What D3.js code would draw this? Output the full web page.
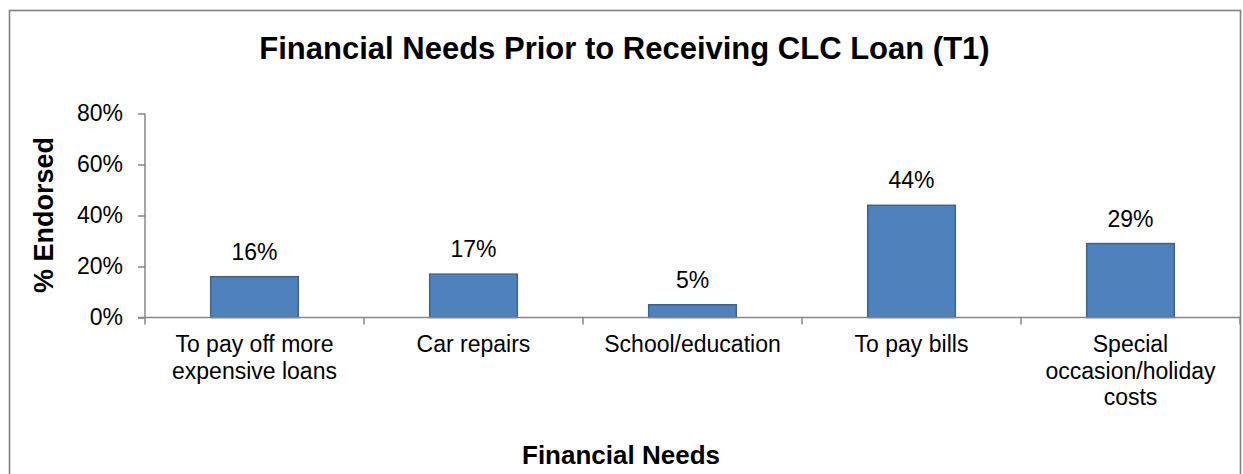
<!DOCTYPE html>
<html>
<head>
<meta charset="utf-8">
<script src="https://cdn.jsdelivr.net/npm/d3@7"></script>
<style>
  html, body { margin: 0; padding: 0; background: #fff; }
  svg { display: block; font-family: Arial, "Liberation Sans", sans-serif; }
</style>
</head>
<body>
<svg id="chart" width="1243" height="474"></svg>
<script>
// Share of respondents endorsing each financial need (percent)
const categories = [
  ["To pay off more", "expensive loans"],
  ["Car repairs"],
  ["School/education"],
  ["To pay bills"],
  ["Special", "occasion/holiday", "costs"]
];
const values = [16, 17, 5, 44, 29];
const yTicks = [0, 20, 40, 60, 80];

const chartTitle = "Financial Needs Prior to Receiving CLC Loan (T1)";
const xTitle = "Financial Needs";
const yTitle = "% Endorsed";

const svg = d3.select("#chart");
const W = 1243, H = 474;

// Outer chart frame
svg.append("rect")
  .attr("x", 9.5).attr("y", 10.5)
  .attr("width", 1231).attr("height", H + 10)
  .attr("fill", "#fff")
  .attr("stroke", "#808080").attr("stroke-width", 1.6);

const plot = { left: 145, right: 1240, top: 113.5, bottom: 317.5 };

const x = d3.scaleBand()
  .domain(d3.range(categories.length))
  .range([plot.left, plot.right])
  .paddingInner(0.6).paddingOuter(0.3);

const xOuter = d3.scaleBand()
  .domain(d3.range(categories.length))
  .range([plot.left, plot.right]);

const y = d3.scaleLinear().domain([0, 80]).range([plot.bottom, plot.top]);

// Title
svg.append("text")
  .attr("x", 624.5).attr("y", 59)
  .attr("text-anchor", "middle")
  .attr("font-size", 31).attr("font-weight", "bold")
  .attr("fill", "#000")
  .text(chartTitle);

// Bars
svg.append("g").selectAll("rect")
  .data(values)
  .join("rect")
  .attr("x", (d, i) => x(i))
  .attr("y", d => y(d))
  .attr("width", x.bandwidth())
  .attr("height", d => y(0) - y(d))
  .attr("fill", "#4F81BD")
  .attr("stroke", "#3B6392")
  .attr("stroke-width", 1.5);

// Value labels
svg.append("g").selectAll("text")
  .data(values)
  .join("text")
  .attr("x", (d, i) => x(i) + x.bandwidth() / 2)
  .attr("y", d => y(d) - 17)
  .attr("text-anchor", "middle")
  .attr("font-size", 23)
  .attr("fill", "#000")
  .text(d => d + "%");

// Y axis
const yAxis = svg.append("g")
  .attr("transform", `translate(${plot.left},0)`)
  .call(d3.axisLeft(y).tickValues(yTicks).tickFormat(d => d + "%").tickSize(7).tickPadding(15));
yAxis.select(".domain").attr("stroke", "#868686").attr("stroke-width", 1.5)
  .attr("d", `M0,${plot.top}V${plot.bottom}`);
yAxis.selectAll(".tick line").attr("stroke", "#868686").attr("stroke-width", 1.5);
yAxis.selectAll(".tick text")
  .attr("font-size", 23).attr("font-family", "Arial, 'Liberation Sans', sans-serif")
  .attr("fill", "#000");

// X axis: line with ticks at category boundaries
const xg = svg.append("g");
xg.append("line")
  .attr("x1", plot.left - 7).attr("x2", plot.right)
  .attr("y1", plot.bottom).attr("y2", plot.bottom)
  .attr("stroke", "#868686").attr("stroke-width", 1.5);
const bounds = d3.range(categories.length + 1).map(i => i < categories.length ? xOuter(i) : plot.right);
xg.selectAll(".xtick")
  .data(bounds)
  .join("line")
  .attr("class", "xtick")
  .attr("x1", d => d).attr("x2", d => d)
  .attr("y1", plot.bottom).attr("y2", plot.bottom + 7)
  .attr("stroke", "#868686").attr("stroke-width", 1.5);

// Category labels
const catG = svg.append("g").selectAll("text")
  .data(categories)
  .join("text")
  .attr("text-anchor", "middle")
  .attr("font-size", 23)
  .attr("fill", "#000");
catG.selectAll("tspan")
  .data((d, i) => d.map(line => ({ line, i })))
  .join("tspan")
  .attr("x", d => xOuter(d.i) + xOuter.bandwidth() / 2)
  .attr("y", (d, j) => 352 + j * 26.5)
  .text(d => d.line);

// Axis titles
svg.append("text")
  .attr("x", 621).attr("y", 464)
  .attr("text-anchor", "middle")
  .attr("font-size", 26).attr("font-weight", "bold")
  .attr("fill", "#000")
  .text(xTitle);

svg.append("text")
  .attr("transform", "translate(53,215) rotate(-90)")
  .attr("text-anchor", "middle")
  .attr("font-size", 27).attr("font-weight", "bold")
  .attr("fill", "#000")
  .text(yTitle);
</script>
</body>
</html>
